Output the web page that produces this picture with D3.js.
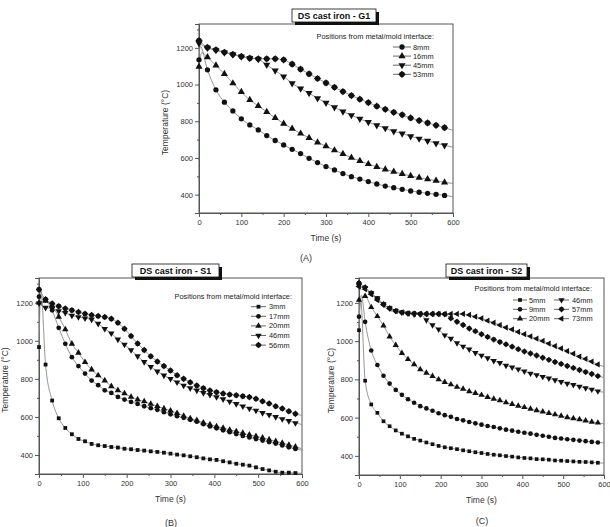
<!DOCTYPE html>
<html>
<head>
<meta charset="utf-8">
<script src="https://cdn.jsdelivr.net/npm/d3@7"></script>
<style>
body{margin:0;background:#fff;}
svg{display:block;font-family:"Liberation Sans",Arial,sans-serif;}
.lg{fill:#222;font-size:7.4px;}
</style>
</head>
<body>
<svg id="chart" width="610" height="527"></svg>
<script>
// sampling times (s); the last one (600) only carries the fitted line
const timesA = [0,20,40,60,80,100,120,140,160,180,200,220,240,260,280,300,320,340,360,380,400,420,440,460,480,500,520,540,560,580,600];
const timesBC = [0,15,30,45,60,75,90,105,120,135,150,165,180,195,210,225,240,255,270,285,300,315,330,345,360,375,390,405,420,435,450,465,480,495,510,525,540,555,570,585,600];

const xMajor = [0,100,200,300,400,500,600];
const xMinor = [50,150,250,350,450,550];
const yMajor = [400,600,800,1000,1200];
const yMinor = [500,700,900,1100,1300];

// G1
const g1Names = ['8mm','16mm','45mm','53mm'];
const g1_8  = [1135,1080,971,904,856,813,780,753,722,695,671,647,624,598,575,553,535,515,498,485,471,458,447,438,429,420,413,407,402,396,389];
const g1_16 = [1098,1149,1104,1058,1007,960,916,884,851,818,787,760,733,709,685,664,642,622,602,584,567,551,538,525,513,502,493,484,476,467,461];
const g1_45 = [1225,1200,1187,1174,1163,1152,1145,1138,1107,1076,1044,1007,978,953,925,900,876,853,833,813,795,778,762,745,733,718,705,693,680,669,658];
const g1_53 = [1240,1202,1189,1176,1165,1153,1144,1140,1140,1140,1135,1111,1084,1058,1033,1009,985,962,940,920,902,882,865,849,835,818,804,791,778,765,750];
const g1Peaks = [[3,1210],[7,1175],null,null];

// S1
const s1Names = ['3mm','17mm','20mm','46mm','56mm'];
const s1_3  = [967,875,686,593,542,509,484,472,458,451,447,442,439,433,430,426,423,419,416,412,407,402,398,393,388,382,377,374,367,361,354,349,344,335,326,319,312,307,307,305,304];
const s1_17 = [1232,1214,1160,1068,984,914,867,828,791,767,740,726,705,691,679,668,656,646,637,625,614,604,595,585,575,562,550,540,530,520,510,500,492,484,476,468,460,450,440,432,425];
const s1_20 = [1200,1210,1185,1126,1060,984,937,888,849,818,791,761,740,723,705,691,681,668,656,644,633,620,605,592,582,570,560,550,542,532,524,515,506,498,490,481,472,463,453,443,433];
const s1_46 = [1197,1174,1170,1156,1147,1133,1125,1118,1112,1090,1063,1039,1007,980,951,919,889,863,839,818,800,782,765,751,739,726,716,704,693,681,668,656,644,633,621,611,600,589,579,568,560];
const s1_56 = [1270,1218,1196,1182,1170,1161,1151,1142,1135,1130,1125,1116,1095,1063,1025,986,951,919,891,867,844,819,800,782,765,751,739,730,723,718,714,709,704,695,682,670,656,644,630,616,608];
const s1Peaks = [[4,1275],null,null,null,null];

// S2
const s2Names = ['5mm','9mm','20mm','46mm','57mm','73mm'];
const s2_5  = [1057,793,669,625,581,555,533,516,502,489,480,470,461,452,445,440,435,429,424,419,415,410,406,403,399,396,392,389,387,383,382,380,376,375,373,371,369,368,366,364,362];
const s2_9  = [1128,1101,951,875,819,778,745,719,696,678,660,648,636,623,613,604,593,586,577,570,563,556,551,544,537,532,526,521,516,510,505,500,494,491,487,484,480,477,473,470,468];
const s2_20 = [1215,1235,1177,1130,1081,1023,979,937,905,878,852,834,817,799,785,773,760,750,737,728,718,707,698,690,679,670,661,654,646,638,631,623,616,609,601,596,591,584,578,573,568];
const s2_46 = [1290,1278,1251,1225,1193,1172,1158,1151,1145,1140,1140,1110,1084,1062,1031,1013,990,972,957,939,925,911,897,886,872,863,853,842,831,823,814,805,796,787,778,771,763,754,747,738,733];
const s2_57 = [1304,1281,1251,1221,1193,1172,1158,1149,1145,1144,1142,1142,1142,1142,1140,1119,1101,1084,1066,1052,1036,1022,1008,995,983,971,958,946,935,925,913,902,891,881,870,860,849,838,828,817,810];
const s2_73 = [1285,1272,1245,1215,1190,1170,1157,1150,1145,1143,1142,1142,1142,1142,1142,1142,1142,1142,1137,1128,1119,1107,1096,1084,1071,1061,1048,1036,1025,1013,1001,987,974,962,948,934,919,907,893,878,866];
const s2Peaks = [[4,1220],[6,1240],null,null,null,null];

const svg = d3.select('#chart');
const axisColor = '#555';
const textColor = '#333';

// origin style "bullet diamond"
const diamond = {
  draw(ctx, size){
    const r = Math.sqrt(size/2)*1.15;
    ctx.moveTo(0,-r); ctx.lineTo(r,0); ctx.lineTo(0,r); ctx.lineTo(-r,0); ctx.closePath();
    const c = r*0.78;
    ctx.moveTo(c,0); ctx.arc(0,0,c,0,2*Math.PI);
  }
};
const symbolDefs = {
  square:  {type:d3.symbolSquare, rot:0, k:0.8},
  circle:  {type:d3.symbolCircle, rot:0, k:1},
  up:      {type:d3.symbolTriangle, rot:0, k:1},
  down:    {type:d3.symbolTriangle, rot:180, k:1},
  diamond: {type:diamond, rot:0, k:0.9},
  left:    {type:d3.symbolTriangle, rot:-90, k:1}
};

function marker(g, kind, cx, cy, size){
  const s = symbolDefs[kind];
  g.append('path')
    .attr('d', d3.symbol().type(s.type).size(size*s.k)())
    .attr('transform', `translate(${cx},${cy}) rotate(${s.rot})`)
    .attr('fill','#111');
}

function styleAxis(sel){
  sel.select('.domain').attr('stroke',axisColor);
  sel.selectAll('.tick line').attr('stroke',axisColor);
  sel.selectAll('.tick text').attr('fill',textColor).style('font-size','7.5px');
}

function drawPanel(cfg){
  const x = d3.scaleLinear().domain([0,600]).range([cfg.left,cfg.right]);
  const y = d3.scaleLinear().domain([300,1330]).range([cfg.bottom,cfg.top]);
  const g = svg.append('g');

  g.append('rect')
    .attr('x',cfg.left).attr('y',cfg.top)
    .attr('width',cfg.right-cfg.left).attr('height',cfg.bottom-cfg.top)
    .attr('fill','none').attr('stroke',axisColor).attr('stroke-width',1);

  g.append('g').attr('transform',`translate(0,${cfg.bottom})`)
    .call(d3.axisBottom(x).tickValues(xMajor).tickSize(4).tickPadding(3).tickFormat(d3.format('d')))
    .call(styleAxis);
  g.append('g').attr('transform',`translate(0,${cfg.bottom})`)
    .call(d3.axisBottom(x).tickValues(xMinor).tickSize(2).tickFormat(''))
    .call(styleAxis);
  g.append('g').attr('transform',`translate(${cfg.left},0)`)
    .call(d3.axisLeft(y).tickValues(yMajor).tickSize(4).tickPadding(2).tickFormat(d3.format('d')))
    .call(styleAxis);
  g.append('g').attr('transform',`translate(${cfg.left},0)`)
    .call(d3.axisLeft(y).tickValues(yMinor.filter(v=>v<1330)).tickSize(2).tickFormat(''))
    .call(styleAxis);

  // axis titles
  g.append('text')
    .attr('x',(cfg.left+cfg.right)/2).attr('y',cfg.bottom+28)
    .attr('text-anchor','middle').attr('fill',textColor).style('font-size','8.5px')
    .text('Time (s)');
  g.append('text')
    .attr('transform',`translate(${cfg.yTitleX},${(cfg.top+cfg.bottom)/2+4}) rotate(-90)`)
    .attr('text-anchor','middle').attr('fill',textColor).style('font-size','8.5px')
    .text('Temperature (°C)');

  // title box with shadow
  const tb = cfg.titleBox;
  g.append('rect').attr('x',tb.x+3).attr('y',tb.y+3).attr('width',tb.w).attr('height',tb.h).attr('fill','#111');
  g.append('rect').attr('x',tb.x).attr('y',tb.y).attr('width',tb.w).attr('height',tb.h)
    .attr('fill','#fff').attr('stroke','#111').attr('stroke-width',0.8);
  g.append('text').attr('x',tb.x+tb.w/2).attr('y',tb.y+tb.h/2+3.3)
    .attr('text-anchor','middle').attr('fill','#111')
    .style('font-size','9px').style('font-weight','bold')
    .text(cfg.title);

  // curves and markers
  const line = d3.line().x(d=>x(d[0])).y(d=>y(d[1])).curve(d3.curveMonotoneX);
  cfg.series.forEach((vals,i)=>{
    const pts = cfg.times.map((t,j)=>[t,vals[j]]);
    const linePts = pts.slice();
    if (cfg.peaks[i]) linePts.splice(1,0,cfg.peaks[i]);
    g.append('path').attr('d',line(linePts))
      .attr('fill','none').attr('stroke','#8a8a8a').attr('stroke-width',0.9);
  });
  cfg.series.forEach((vals,i)=>{
    const mg = g.append('g');
    cfg.times.forEach((t,j)=>{
      if (t >= 600) return;
      marker(mg, cfg.symbols[i], x(t), y(vals[j]), cfg.msize);
    });
  });

  // legend
  const L = cfg.legend;
  g.append('text').attr('class','lg').attr('x',L.headX).attr('y',L.headY+2.5)
    .attr('text-anchor','end')
    .text('Positions from metal/mold interface:');
  cfg.names.forEach((name,i)=>{
    const col = Math.floor(i/L.perCol);
    const row = i % L.perCol;
    const c = L.cols[col];
    const ry = L.rowY + row*L.rowStep;
    g.append('line').attr('x1',c.x1).attr('x2',c.x2).attr('y1',ry).attr('y2',ry)
      .attr('stroke','#555').attr('stroke-width',0.9);
    marker(g, cfg.symbols[i], (c.x1+c.x2)/2, ry, cfg.msize);
    g.append('text').attr('class','lg').attr('x',c.tx).attr('y',ry+2.5).text(name);
  });

  g.append('text').attr('x',cfg.tag.x).attr('y',cfg.tag.y)
    .attr('text-anchor','middle').attr('fill',textColor).style('font-size','9px')
    .text(cfg.tag.text);
}

drawPanel({
  left:199, right:453, top:24, bottom:213, yTitleX:168,
  title:'DS cast iron - G1', titleBox:{x:292,y:9,w:84,h:13},
  times:timesA, series:[g1_8,g1_16,g1_45,g1_53], peaks:g1Peaks, names:g1Names,
  symbols:['circle','up','down','diamond'], msize:22,
  legend:{headX:434, headY:36, rowY:47, rowStep:9.1, perCol:4, cols:[{x1:393,x2:411,tx:413}]},
  tag:{text:'(A)', x:306, y:261}
});
drawPanel({
  left:39, right:302, top:278, bottom:474, yTitleX:8,
  title:'DS cast iron - S1', titleBox:{x:132,y:264,w:87,h:13},
  times:timesBC, series:[s1_3,s1_17,s1_20,s1_46,s1_56], peaks:s1Peaks, names:s1Names,
  symbols:['square','circle','up','down','diamond'], msize:18,
  legend:{headX:292, headY:296.7, rowY:306.7, rowStep:9.6, perCol:5, cols:[{x1:251,x2:266,tx:269}]},
  tag:{text:'(B)', x:171, y:526}
});
drawPanel({
  left:359, right:604, top:278, bottom:475, yTitleX:334,
  title:'DS cast iron - S2', titleBox:{x:446,y:264,w:81,h:13},
  times:timesBC, series:[s2_5,s2_9,s2_20,s2_46,s2_57,s2_73], peaks:s2Peaks, names:s2Names,
  symbols:['square','circle','up','down','diamond','left'], msize:17,
  legend:{headX:592, headY:288.7, rowY:300, rowStep:9.35, perCol:3,
          cols:[{x1:513,x2:527,tx:529},{x1:554,x2:569,tx:572}]},
  tag:{text:'(C)', x:482, y:524}
});
</script>
</body>
</html>
